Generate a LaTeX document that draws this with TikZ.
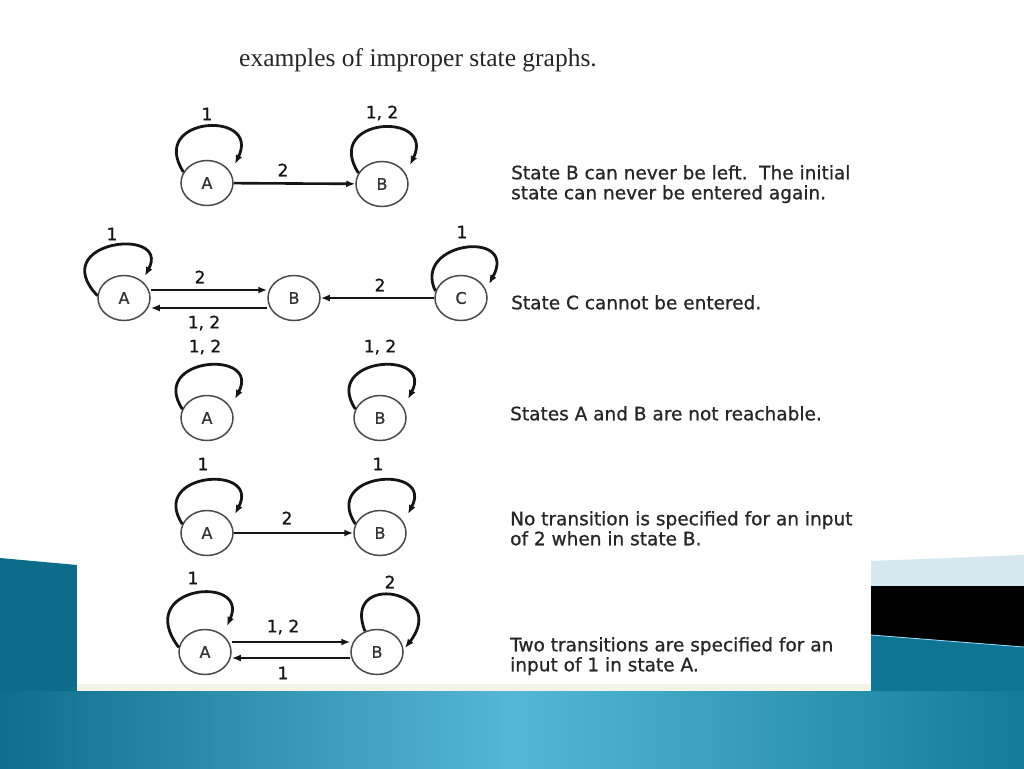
\documentclass[tikz,border=0pt]{standalone}
\usepackage{fontspec}
\setmainfont{Liberation Serif}
\newfontfamily\descfont[FakeBold=0.8]{DejaVu Sans}
\usetikzlibrary{shapes.geometric,arrows.meta,calc}
\definecolor{tealdark}{HTML}{0C6C8A}
\definecolor{tealmid}{HTML}{0E7594}
\definecolor{tealedge}{HTML}{0F6E8C}
\definecolor{tealright}{HTML}{137C9B}
\definecolor{teallight}{HTML}{55B7D8}
\definecolor{lightstrip}{HTML}{D5E7EF}
\definecolor{cream}{HTML}{F4F3E8}
\definecolor{circgray}{HTML}{4A4A4A}
\definecolor{linecol}{HTML}{151515}
\definecolor{textcol}{HTML}{262626}
\begin{document}
\begin{tikzpicture}[x=1pt,y=-1pt,
  st/.style={ellipse,draw=circgray,line width=1.5pt,minimum width=52pt,minimum height=45pt,inner sep=0pt,font=\descfont\fontsize{16}{16}\selectfont,text=black!80},
  tr/.style={line width=2.6pt,draw=linecol,-{Latex[length=9pt,width=7pt]}},
  lp/.style={line width=2.8pt,draw=linecol,-{Latex[length=9pt,width=7pt]}},
  lab/.style={font=\descfont\fontsize{17}{17}\selectfont,text=linecol,inner sep=0pt},
  desc/.style={font=\descfont\fontsize{18.5}{20}\selectfont,text=textcol,align=left,anchor=north west,inner sep=0pt}]
\useasboundingbox (0,0) rectangle (1024,768);
\fill[white] (0,0) rectangle (1024,768);
% background bands
\shade[left color=tealedge,right color=tealright,middle color=teallight] (0,690) rectangle (1024,768);
\fill[tealdark] (0,558) -- (77,565) -- (77,691) -- (0,691) -- cycle;
\fill[lightstrip] (871,561) -- (1024,555) -- (1024,586) -- (871,586) -- cycle;
\fill[black] (871,586) -- (1024,586) -- (1024,647) -- (871,635) -- cycle;
\fill[tealmid] (871,635) -- (1024,647) -- (1024,691) -- (871,691) -- cycle;
\draw[white!60!cyan,line width=0.8pt] (871,635) -- (1024,647);
% picture panel
\fill[white] (77,95) rectangle (871,691);
\fill[cream] (77,684) rectangle (871,691);
% title
\node[font=\fontsize{25.5}{25.5}\selectfont,anchor=west,text=black!85,inner sep=0pt] (title) at (239,60) {examples of improper state graphs.};

% row 1
\node[st] (A1) at (207,183) {A};
\node[st] (B1) at (382,184) {B};
\draw[tr] (A1) -- (B1);
\draw[lp] (A1.155) .. controls +(-36,-56) and +(26,-54) .. ($(A1)+(28,-19)$);
\draw[lp] (B1.155) .. controls +(-36,-56) and +(26,-54) .. ($(B1)+(28,-19)$);
\node[lab] (l1a) at (207,114) {1};
\node[lab] (l1b) at (382,113) {1, 2};
\node[lab] (l1e) at (283,170) {2};
\node[desc] (d1) at (511,165) {State B can never be left.\ \ The initial\\state can never be entered again.};

% row 2
\node[st] (A2) at (124,298) {A};
\node[st] (B2) at (294,298) {B};
\node[st] (C2) at (461,298) {C};
\draw[tr] ([yshift=8pt]A2.east) -- ([yshift=8pt]B2.west);
\draw[tr] ([yshift=-10pt]B2.west) -- ([yshift=-10pt]A2.east);
\draw[tr] (C2) -- (B2);
\draw[lp] (A2.175) .. controls +(-52,-55) and +(26,-50) .. ($(A2)+(21,-22)$);
\draw[lp] (C2.165) .. controls +(-24,-50) and +(30,-55) .. ($(C2)+(28,-14)$);
\node[lab] (l2a) at (112,234) {1};
\node[lab] (l2ab) at (200,277) {2};
\node[lab] (l2ba) at (204,323) {1, 2};
\node[lab] (l2cb) at (380,285) {2};
\node[lab] (l2c) at (462,232) {1};
\node[desc] (d2) at (511,295) {State C cannot be entered.};

% row 3
\node[st] (A3) at (207,418) {A};
\node[st] (B3) at (380,418) {B};
\draw[lp] (A3.160) .. controls +(-34,-52) and +(26,-50) .. ($(A3)+(28,-19)$);
\draw[lp] (B3.160) .. controls +(-34,-52) and +(26,-50) .. ($(B3)+(28,-19)$);
\node[lab] (l3a) at (205,347) {1, 2};
\node[lab] (l3b) at (380,347) {1, 2};
\node[desc] (d3) at (510,406) {States A and B are not reachable.};

% row 4
\node[st] (A4) at (207,533) {A};
\node[st] (B4) at (380,533) {B};
\draw[tr] (A4) -- (B4);
\draw[lp] (A4.160) .. controls +(-34,-52) and +(26,-50) .. ($(A4)+(28,-19)$);
\draw[lp] (B4.160) .. controls +(-34,-52) and +(26,-50) .. ($(B4)+(28,-19)$);
\node[lab] (l4a) at (203,464) {1};
\node[lab] (l4b) at (378,464) {1};
\node[lab] (l4e) at (287,518) {2};
\node[desc] (d4) at (510,511) {No transition is specified for an input\\of 2 when in state B.};

% row 5
\node[st] (A5) at (205,652) {A};
\node[st] (B5) at (377,652) {B};
\draw[tr] ([yshift=10pt]A5.east) -- ([yshift=10pt]B5.west);
\draw[tr] ([yshift=-6pt]B5.west) -- ([yshift=-6pt]A5.east);
\draw[lp] (A5.170) .. controls +(-47,-62) and +(23,-52) .. ($(A5)+(22,-26)$);
\draw[lp] (B5.120) .. controls +(-24,-60) and +(45,-58) .. ($(B5)+(28,-4)$);
\node[lab] (l5a) at (193,578) {1};
\node[lab] (l5b) at (390,582) {2};
\node[lab] (l5ab) at (283,627) {1, 2};
\node[lab] (l5ba) at (283,673) {1};
\node[desc] (d5) at (510,637) {Two transitions are specified for an\\input of 1 in state A.};
\end{tikzpicture}
\end{document}
